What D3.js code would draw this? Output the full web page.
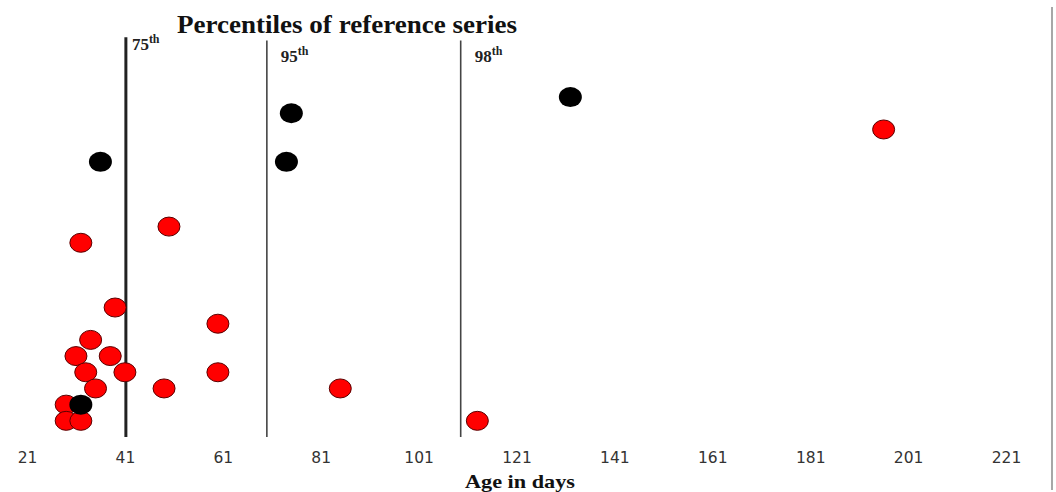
<!DOCTYPE html>
<html>
<head>
<meta charset="utf-8">
<script src="https://cdn.jsdelivr.net/npm/d3@7"></script>
<style>
  body { margin: 0; background: #fff; }
  svg { display: block; }
</style>
</head>
<body>
<script>
// Data
var redAge   = [39, 34, 31, 38, 33, 41, 35, 29, 29, 32, 60, 60, 49, 85, 32, 50, 113, 196];
var redLevel = [ 8,  6,  5,  5,  4,  4,  3,  2,  1,  1,  7,  4,  3,  3, 12, 13,   1,  19];
var blackAge   = [32, 36, 75, 74, 132];
var blackLevel = [ 2, 17, 20, 17,  21];
var pctLabels = ["75", "95", "98"];
var pctAge = [41.2, 70, 109.6];
var xTicks = [21, 41, 61, 81, 101, 121, 141, 161, 181, 201, 221];

function init() {
    var w = 1056, h = 492;

    var xScale = d3.scaleLinear().domain([21, 221]).range([27, 1006]);
    var yScale = d3.scaleLinear().domain([0, 27]).range([437, 0]);

    var svg = d3.select("body").append("svg")
        .attr("width", w)
        .attr("height", h);

    // right frame edge
    svg.append("line")
        .attr("x1", 1052).attr("x2", 1052)
        .attr("y1", 7).attr("y2", 490)
        .attr("stroke", "#8a8a8a").attr("stroke-width", 1.5);

    // x axis (labels only)
    var xAxis = d3.axisBottom(xScale).tickValues(xTicks).tickSize(0).tickPadding(0);
    var gx = svg.append("g")
        .attr("transform", "translate(0,452)")
        .call(xAxis);
    gx.select(".domain").remove();
    gx.selectAll("text")
        .attr("font-family", "DejaVu Sans, sans-serif")
        .attr("font-size", "15.5px")
        .attr("fill", "#333");

    // percentile lines
    var widths = [3, 1.6, 1.6];
    svg.selectAll(".pct")
        .data(pctAge)
        .enter()
        .append("line")
        .attr("class", "pct")
        .attr("x1", function(d) { return xScale(d); })
        .attr("x2", function(d) { return xScale(d); })
        .attr("y1", yScale(0))
        .attr("y2", function(d, i) { return yScale(i == 0 ? 24.7 : 24.5); })
        .attr("stroke", function(d, i) { return i == 0 ? "#222" : "#444"; })
        .attr("stroke-width", function(d, i) { return widths[i]; });

    // percentile labels
    var lab = svg.selectAll(".pctlab")
        .data(pctLabels)
        .enter()
        .append("text")
        .attr("class", "pctlab")
        .attr("x", function(d, i) { return xScale(pctAge[i]) + (i == 0 ? 6 : 14); })
        .attr("y", function(d, i) { return i == 0 ? 50 : 62; })
        .attr("font-family", "Liberation Serif, serif")
        .attr("font-weight", "bold")
        .attr("font-size", "17px")
        .attr("fill", "#222");
    lab.append("tspan").text(function(d) { return d; });
    lab.append("tspan")
        .attr("dy", -7)
        .attr("font-size", "12px")
        .text("th");

    // title
    svg.append("text")
        .attr("x", 347)
        .attr("y", 33)
        .attr("text-anchor", "middle")
        .attr("font-family", "Liberation Serif, serif")
        .attr("font-weight", "bold")
        .attr("font-size", "25px")
        .attr("textLength", 340)
        .attr("lengthAdjust", "spacingAndGlyphs")
        .attr("fill", "#111")
        .text("Percentiles of reference series");

    // x axis title
    svg.append("text")
        .attr("x", 520)
        .attr("y", 488)
        .attr("text-anchor", "middle")
        .attr("font-family", "Liberation Serif, serif")
        .attr("font-weight", "bold")
        .attr("font-size", "19px")
        .attr("textLength", 110)
        .attr("lengthAdjust", "spacingAndGlyphs")
        .attr("fill", "#111")
        .text("Age in days");

    // red points
    var red = redAge.map(function(a, i) { return {x: a, y: redLevel[i]}; });
    svg.selectAll(".red")
        .data(red)
        .enter()
        .append("ellipse")
        .attr("class", "red")
        .attr("cx", function(d) { return xScale(d.x); })
        .attr("cy", function(d) { return yScale(d.y); })
        .attr("rx", 11)
        .attr("ry", 9.5)
        .attr("fill", "#ff0000")
        .attr("stroke", "#5a0000")
        .attr("stroke-width", 1);

    // black points
    var black = blackAge.map(function(a, i) { return {x: a, y: blackLevel[i]}; });
    svg.selectAll(".black")
        .data(black)
        .enter()
        .append("ellipse")
        .attr("class", "black")
        .attr("cx", function(d) { return xScale(d.x); })
        .attr("cy", function(d) { return yScale(d.y); })
        .attr("rx", 11.5)
        .attr("ry", 10)
        .attr("fill", "#000");
}

window.onload = init;
</script>
</body>
</html>
